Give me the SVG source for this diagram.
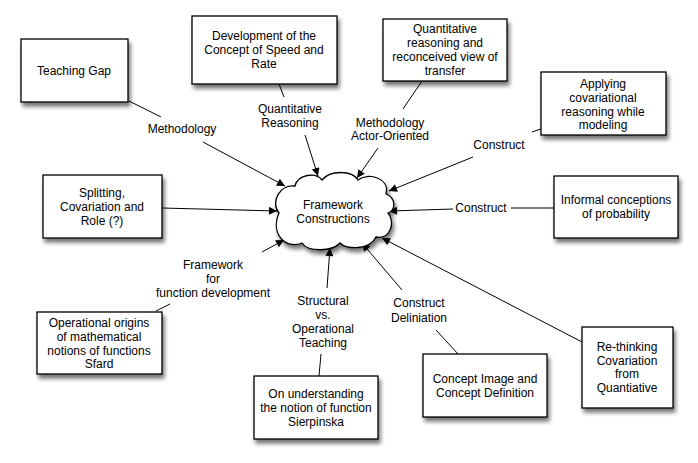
<svg xmlns="http://www.w3.org/2000/svg" width="698" height="463" viewBox="0 0 698 463">
<defs>
<filter id="sh" x="-20%" y="-20%" width="150%" height="160%">
<feGaussianBlur in="SourceAlpha" stdDeviation="2.2"/>
<feOffset dx="2" dy="4" result="b"/>
<feComponentTransfer><feFuncA type="linear" slope="0.55"/></feComponentTransfer>
<feMerge><feMergeNode/><feMergeNode in="SourceGraphic"/></feMerge>
</filter>
<marker id="ah" viewBox="0 0 10 10" refX="10" refY="5" markerWidth="11" markerHeight="8" markerUnits="userSpaceOnUse" orient="auto">
<path d="M0,0 L10,5 L0,10 Z" fill="#000"/>
</marker>
</defs>
<style>
.box{fill:#fff;stroke:#000;stroke-width:1.3;filter:url(#sh)}
text{font-family:"Liberation Sans",Arial,Helvetica,sans-serif;font-size:12px;fill:#000;text-anchor:middle}
.c line{stroke:#000;stroke-width:1}
.c .a{marker-end:url(#ah)}
</style>
<rect width="698" height="463" fill="#fff"/>

<g class="c" id="connectors">
<line x1="129" y1="101" x2="161" y2="117"/>
<line class="a" x1="203" y1="142" x2="285" y2="186"/>
<line x1="279" y1="84" x2="284" y2="97"/>
<line class="a" x1="305" y1="135" x2="318" y2="176"/>
<line x1="422" y1="81" x2="403" y2="109"/>
<line class="a" x1="378" y1="148" x2="357" y2="178"/>
<line x1="541" y1="129" x2="532" y2="132"/>
<line class="a" x1="473" y1="157" x2="389" y2="191"/>
<line x1="554" y1="208" x2="511" y2="208"/>
<line class="a" x1="453" y1="209" x2="389" y2="211"/>
<line class="a" x1="162" y1="208" x2="277" y2="211"/>
<line x1="156" y1="311" x2="170" y2="304"/>
<line class="a" x1="262" y1="252" x2="284" y2="240"/>
<line x1="319" y1="376" x2="321" y2="354"/>
<line class="a" x1="327" y1="288" x2="330" y2="248"/>
<line x1="458" y1="354" x2="436" y2="330"/>
<line class="a" x1="402" y1="290" x2="362" y2="243"/>
<line class="a" x1="582" y1="342" x2="382" y2="238"/>
<text x="182" y="133">Methodology</text>
<text x="290" y="113">Quantitative</text>
<text x="290" y="127">Reasoning</text>
<text x="390" y="127">Methodology</text>
<text x="390" y="140">Actor-Oriented</text>
<text x="499" y="149">Construct</text>
<text x="481" y="212">Construct</text>
<text x="213" y="269">Framework</text>
<text x="213" y="283">for</text>
<text x="213" y="297">function development</text>
<text x="323" y="305">Structural</text>
<text x="323" y="319">vs.</text>
<text x="323" y="333">Operational</text>
<text x="323" y="347">Teaching</text>
<text x="419" y="307">Construct</text>
<text x="419" y="322">Deliniation</text>
</g>

<g id="framework">
<path class="box" d="M295,186 C298,174 316,172 322,180 C330,170 352,170 358,180 C368,172 390,178 386,194 C396,198 396,210 388,213 C396,222 390,240 376,237 C370,250 346,250 340,243 C332,252 308,252 302,243 C286,250 270,234 279,213 C270,202 280,184 295,186 Z"/>
<text x="333" y="209">Framework</text>
<text x="333" y="223">Constructions</text>
</g>

<g id="teaching-gap">
<rect class="box" x="21" y="39" width="107" height="63"/>
<text x="74" y="75">Teaching Gap</text>
</g>

<g id="speed-rate">
<rect class="box" x="192" y="16" width="145" height="68"/>
<text x="264" y="40">Development of the</text>
<text x="264" y="54">Concept of Speed and</text>
<text x="264" y="67.5">Rate</text>
</g>

<g id="quant-reasoning">
<rect class="box" x="383" y="19" width="124" height="62"/>
<text x="445" y="33">Quantitative</text>
<text x="445" y="47">reasoning and</text>
<text x="445" y="61">reconceived view of</text>
<text x="445" y="75">transfer</text>
</g>

<g id="applying">
<rect class="box" x="541" y="72" width="125" height="63"/>
<text x="603" y="88">Applying</text>
<text x="603" y="102">covariational</text>
<text x="603" y="115.5">reasoning while</text>
<text x="603" y="129">modeling</text>
</g>

<g id="informal">
<rect class="box" x="554" y="176" width="124" height="62"/>
<text x="616" y="204">Informal conceptions</text>
<text x="616" y="218">of probability</text>
</g>

<g id="splitting">
<rect class="box" x="43" y="175" width="119" height="63"/>
<text x="102" y="197">Splitting,</text>
<text x="102" y="211">Covariation and</text>
<text x="102" y="225">Role (?)</text>
</g>

<g id="operational">
<rect class="box" x="37" y="312" width="125" height="62"/>
<text x="99" y="327">Operational origins</text>
<text x="99" y="341">of mathematical</text>
<text x="99" y="355">notions of functions</text>
<text x="99" y="368">Sfard</text>
</g>

<g id="sierpinska">
<rect class="box" x="254" y="376" width="124" height="63"/>
<text x="316" y="398">On understanding</text>
<text x="316" y="412">the notion of function</text>
<text x="316" y="426">Sierpinska</text>
</g>

<g id="concept-image">
<rect class="box" x="423" y="354" width="124" height="63"/>
<text x="485" y="383">Concept Image and</text>
<text x="485" y="397">Concept Definition</text>
</g>

<g id="rethinking">
<rect class="box" x="582" y="327" width="91" height="81"/>
<text x="627" y="351">Re-thinking</text>
<text x="627" y="364.5">Covariation</text>
<text x="627" y="378">from</text>
<text x="627" y="392">Quantiative</text>
</g>
</svg>
